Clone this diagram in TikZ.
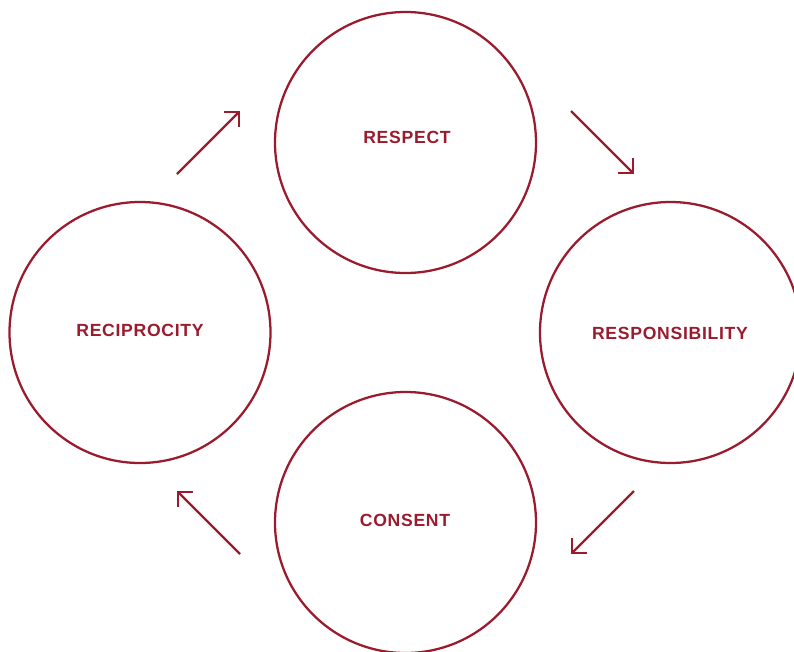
\documentclass[tikz,border=0pt]{standalone}
\usepackage{fontspec}
\setmainfont{Liberation Sans}
\usetikzlibrary{arrows.meta}
\definecolor{wine}{RGB}{155,27,46}
\begin{document}
\begin{tikzpicture}[x=0.75pt,y=-0.75pt,
  ring/.style={circle,draw=wine,line width=1.7pt,minimum size=195.75pt,inner sep=0pt},
  lbl/.style={text=wine,inner sep=0pt,font=\fontsize{13.2pt}{15pt}\selectfont\bfseries\addfontfeatures{LetterSpace=4}},
  flow/.style={draw=wine,line width=1.7pt,-{Straight Barb[length=8pt,width=16pt,line join=miter]}}]
\useasboundingbox (0,0) rectangle (794,651);
\node[ring] (respect) at (405.5,142.5) {};
\node[ring] (resp) at (670.5,332.5) {};
\node[ring] (recip) at (140,332.5) {};
\node[ring] (consent) at (405.5,522.5) {};
\node[lbl] (trespect) at (407,137) {RESPECT};
\node[lbl] (tresp) at (670,333) {RESPONSIBILITY};
\node[lbl] (trecip) at (140,330.5) {RECIPROCITY};
\node[lbl] (tconsent) at (405,520.5) {CONSENT};
\coordinate (a1s) at (177,174); \coordinate (a1e) at (240,111);
\coordinate (a2s) at (571,111); \coordinate (a2e) at (634,174);
\coordinate (a3s) at (634,491); \coordinate (a3e) at (571,554);
\coordinate (a4s) at (240,554); \coordinate (a4e) at (177,491);
\draw[flow] (a1s) -- (a1e);
\draw[flow] (a2s) -- (a2e);
\draw[flow] (a3s) -- (a3e);
\draw[flow] (a4s) -- (a4e);
\end{tikzpicture}
\end{document}
